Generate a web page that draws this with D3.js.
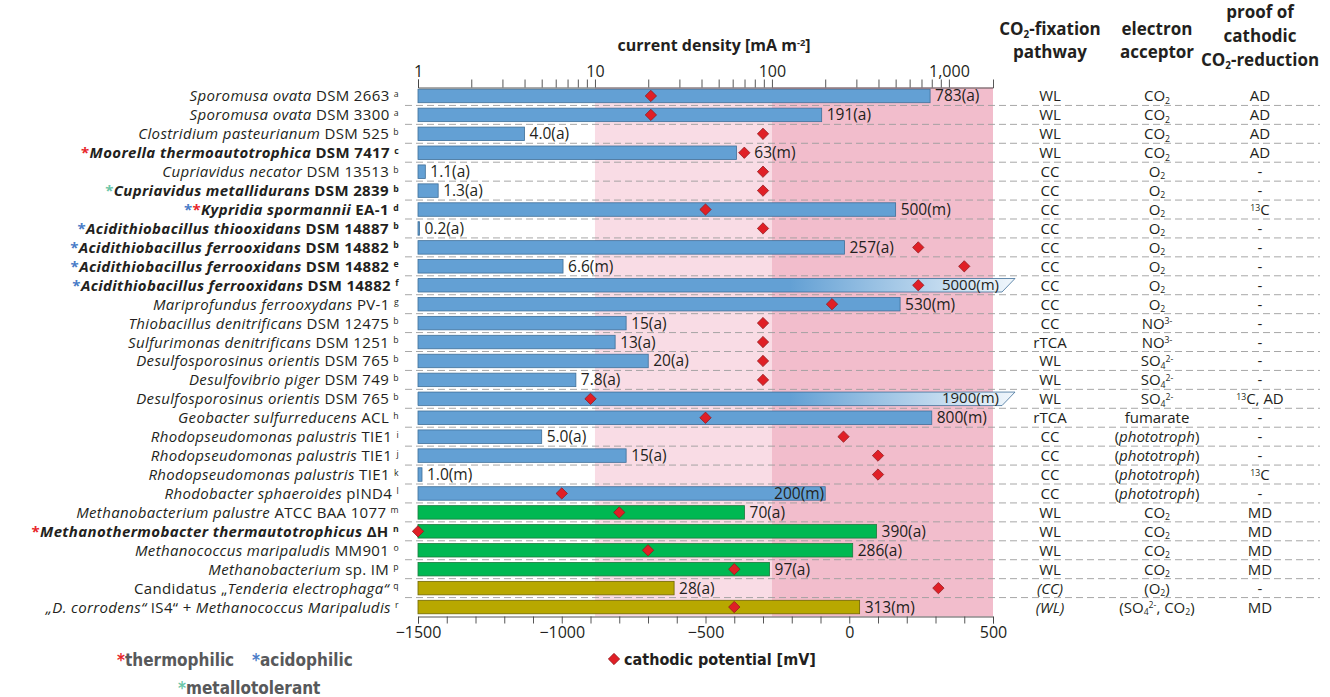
<!DOCTYPE html>
<html>
<head>
<meta charset="utf-8">
<script src="https://cdn.jsdelivr.net/npm/d3@7"></script>
<style>
  body { margin: 0; background: #fff; }
  svg { display: block; font-family: 'Open Sans', sans-serif; }
</style>
</head>
<body>
<svg id="chart" width="1330" height="697"></svg>
<script>
// organism names: |...| toggles italic, _{..} subscript, ^{..} superscript
const organisms = [
  "|Sporomusa ovata| DSM 2663",
  "|Sporomusa ovata| DSM 3300",
  "|Clostridium pasteurianum| DSM 525",
  "|Moorella thermoautotrophica| DSM 7417",
  "|Cupriavidus necator| DSM 13513",
  "|Cupriavidus metallidurans| DSM 2839",
  "|Kypridia spormannii| EA-1",
  "|Acidithiobacillus thiooxidans| DSM 14887",
  "|Acidithiobacillus ferrooxidans| DSM 14882",
  "|Acidithiobacillus ferrooxidans| DSM 14882",
  "|Acidithiobacillus ferrooxidans| DSM 14882",
  "|Mariprofundus ferrooxydans| PV-1",
  "|Thiobacillus denitrificans| DSM 12475",
  "|Sulfurimonas denitrificans| DSM 1251",
  "|Desulfosporosinus orientis| DSM 765",
  "|Desulfovibrio piger| DSM 749",
  "|Desulfosporosinus orientis| DSM 765",
  "|Geobacter sulfurreducens| ACL",
  "|Rhodopseudomonas palustris| TIE1",
  "|Rhodopseudomonas palustris| TIE1",
  "|Rhodopseudomonas palustris| TIE1",
  "|Rhodobacter sphaeroides| pIND4",
  "|Methanobacterium palustre| ATCC BAA 1077",
  "|Methanothermobacter thermautotrophicus| ΔH",
  "|Methanococcus maripaludis| MM901",
  "|Methanobacterium| sp. IM",
  "Candidatus „|Tenderia electrophaga“|",
  "|„D. corrodens“| IS4“ + |Methanococcus Maripaludis|"
];
const refs = "aabcbbdbbefgbbbbbhijklmnopqr".split("");
// r = thermophilic, b = acidophilic, t = metallotolerant
const markers = ["", "", "", "r", "", "t", "br", "b", "b", "b", "b", "", "", "", "", "",
  "", "", "", "", "", "", "", "r", "", "", "", ""];
const boldRows = [3, 5, 6, 7, 8, 9, 10, 23];
const groups = ["blue", "blue", "blue", "blue", "blue", "blue", "blue", "blue", "blue", "blue",
  "blue", "blue", "blue", "blue", "blue", "blue", "blue", "blue", "blue", "blue", "blue", "blue",
  "green", "green", "green", "green", "olive", "olive"];

// current density [mA m-2] and method (a / m)
const density = [783, 191, 4.0, 63, 1.1, 1.3, 500, 0.2, 257, 6.6, 5000, 530, 15, 13, 20, 7.8,
  1900, 800, 5.0, 15, 1.0, 200, 70, 390, 286, 97, 28, 313];
const method = ["a", "a", "a", "m", "a", "a", "m", "a", "a", "m", "m", "m", "a", "a", "a", "a",
  "m", "m", "a", "a", "m", "m", "a", "a", "a", "a", "a", "m"];
// cathodic potential [mV]
const potential = [-690, -690, -300, -365, -300, -300, -500, -300, 240, 400, 240, -60, -300, -300,
  -300, -300, -900, -500, -20, 100, 100, -1000, -800, -1500, -700, -400, 310, -400];

const pathway = ["WL", "WL", "WL", "WL", "CC", "CC", "CC", "CC", "CC", "CC", "CC", "CC", "CC",
  "rTCA", "WL", "WL", "WL", "rTCA", "CC", "CC", "CC", "CC", "WL", "WL", "WL", "WL", "|(CC)|", "|(WL)|"];
const acceptor = ["CO_{2}", "CO_{2}", "CO_{2}", "CO_{2}", "O_{2}", "O_{2}", "O_{2}", "O_{2}", "O_{2}",
  "O_{2}", "O_{2}", "O_{2}", "NO^{3-}", "NO^{3-}", "SO_{4}^{2-}", "SO_{4}^{2-}", "SO_{4}^{2-}",
  "fumarate", "(|phototroph|)", "(|phototroph|)", "(|phototroph|)", "(|phototroph|)",
  "CO_{2}", "CO_{2}", "CO_{2}", "CO_{2}", "(O_{2})", "(SO_{4}^{2-}, CO_{2})"];
const proof = ["AD", "AD", "AD", "AD", "-", "-", "^{13}C", "-", "-", "-", "-", "-", "-", "-", "-",
  "-", "^{13}C, AD", "-", "-", "-", "^{13}C", "-", "MD", "MD", "MD", "MD", "-", "MD"];

const densityTicks = [1, 10, 100, 1000];
const potentialTicks = [-1500, -1000, -500, 0, 500];

const colors = { blue: "#63a0d4", green: "#00b852", olive: "#b8a800" };
const strokes = { blue: "#3f6f98", green: "#1d7a3e", olive: "#6f6600" };
const markColor = { r: "#e8262b", b: "#4a7cc7", t: "#6cc6a8" };
const ink = "#231f20";

const svg = d3.select("#chart");
svg.append("rect").attr("width", 1330).attr("height", 697).attr("fill", "#fff");

const x = d3.scaleLog().domain([1, 1775]).range([418, 993]);
const xp = d3.scaleLinear().domain([-1500, 500]).range([418, 993]);
const y = d3.scaleBand().domain(d3.range(organisms.length)).range([86.5, 616.5]);
const bh = 13.5;
const cy = i => y(i) + y.bandwidth() / 2;

// rich text with italics, sub and superscripts
function rich(sel, str, size) {
  let italic = false, buf = "", i = 0;
  const parts = [];
  const push = (t, kind) => { if (t) parts.push({ t, kind, italic }); };
  while (i < str.length) {
    const c = str[i];
    if (c === "|") { push(buf, "n"); buf = ""; italic = !italic; i++; }
    else if ((c === "_" || c === "^") && str[i + 1] === "{") {
      push(buf, "n"); buf = "";
      const end = str.indexOf("}", i);
      push(str.slice(i + 2, end), c === "_" ? "sub" : "sup");
      i = end + 1;
    } else { buf += c; i++; }
  }
  push(buf, "n");
  let cur = 0;
  parts.forEach(p => {
    const target = p.kind === "sub" ? size * 0.15 : p.kind === "sup" ? -size * 0.3 : 0;
    sel.append("tspan")
      .attr("dy", target - cur)
      .attr("font-size", p.kind === "n" ? size : size * 0.58)
      .attr("font-style", p.italic ? "italic" : "normal")
      .text(p.t);
    cur = target;
  });
  return sel;
}

// shaded zones
svg.append("rect").attr("x", x(10)).attr("y", 87.5).attr("width", x(100) - x(10))
  .attr("height", 529).attr("fill", "#f9dce5");
svg.append("rect").attr("x", x(100)).attr("y", 87.5).attr("width", x.range()[1] - x(100))
  .attr("height", 529).attr("fill", "#f2bdcc");

// row separators
svg.append("g").selectAll("line")
  .data(d3.range(1, organisms.length))
  .join("line")
  .attr("x1", 405).attr("x2", 1320)
  .attr("y1", d => y(d)).attr("y2", d => y(d))
  .attr("stroke", "#9d9d9d").attr("stroke-width", 0.9)
  .attr("stroke-dasharray", "7,4");

// gradient for truncated bars
const grad = svg.append("defs").append("linearGradient").attr("id", "fade")
  .attr("gradientUnits", "userSpaceOnUse").attr("x1", 790).attr("x2", 1010).attr("y1", 0).attr("y2", 0);
grad.append("stop").attr("offset", 0).attr("stop-color", colors.blue);
grad.append("stop").attr("offset", 1).attr("stop-color", "#eef5fb");

const x0 = x(1);
const xmax = x.range()[1];
const truncated = i => density[i] > x.domain()[1];
const barEnd = i => x0 + Math.max(x(density[i]) - x0, density[i] < 1 ? 1.5 : 4);

// bars
const bars = svg.append("g");
organisms.forEach((_, i) => {
  const top = cy(i) - bh / 2;
  if (truncated(i)) {
    bars.append("path")
      .attr("d", `M${x0},${top}L${xmax + 22},${top}L${xmax + 9},${top + bh}L${x0},${top + bh}Z`)
      .attr("fill", "url(#fade)").attr("stroke", "#3f6f98").attr("stroke-width", 0.8);
  } else {
    bars.append("rect").attr("x", x0).attr("y", top).attr("width", barEnd(i) - x0).attr("height", bh)
      .attr("fill", colors[groups[i]]).attr("stroke", strokes[groups[i]]).attr("stroke-width", 0.8);
  }
});

// density labels (pushed past a diamond sitting on the bar end)
const fmt = v => v < 10 ? v.toFixed(1) : String(v);
const labelX = i => {
  if (truncated(i)) return xmax + 6;
  if (density[i] === 200) return barEnd(i) - 1;
  const e = barEnd(i), d = xp(potential[i]);
  return Math.abs(d - e) < 9 ? d + 10 : e + 5;
};
svg.append("g").selectAll("text")
  .data(organisms.map((_, i) => i))
  .join("text")
  .attr("x", labelX)
  .attr("text-anchor", i => truncated(i) || density[i] === 200 ? "end" : "start")
  .attr("y", i => cy(i) + (truncated(i) ? 4.5 : 5.5))
  .attr("font-size", i => truncated(i) ? 15 : 15.5).attr("fill", ink)
  .text(i => `${fmt(density[i])}(${method[i]})`);

// potential diamonds
const diamond = d3.symbol(d3.symbolSquare, 64);
svg.append("g").selectAll("path")
  .data(potential)
  .join("path")
  .attr("d", diamond)
  .attr("transform", (d, i) => `translate(${xp(d)},${cy(i)}) rotate(45)`)
  .attr("fill", "#e01f26").attr("stroke", "#8c1a1e").attr("stroke-width", 0.7);

// top axis (current density, log)
const minor = [];
[1, 10, 100].forEach(b => d3.range(1, 10).forEach(k => minor.push(b * k)));
minor.push(1000);
const topAxis = svg.append("g").attr("transform", "translate(0,87.5)")
  .call(d3.axisTop(x).tickValues(minor).tickSize(8).tickSizeOuter(8)
    .tickFormat(d => densityTicks.includes(d) ? d3.format(",")(d) : ""));
topAxis.selectAll("path, line").attr("stroke", "#444").attr("stroke-width", 0.9);
topAxis.selectAll("text").attr("font-size", 16).attr("fill", ink)
  .attr("font-family", "'Open Sans', sans-serif");

svg.append("text").attr("x", 714).attr("y", 51).attr("text-anchor", "middle")
  .attr("font-weight", 700).attr("fill", ink)
  .call(s => rich(s, "current density [mA m^{-2}]", 16));

// bottom axis (potential)
const botAxis = svg.append("g").attr("transform", "translate(0,616.5)")
  .call(d3.axisBottom(xp).tickValues(d3.range(-1500, 501, 100)).tickSize(7).tickSizeOuter(7)
    .tickFormat(d => potentialTicks.includes(d) ? d3.format("d")(d) : ""));
botAxis.selectAll("path, line").attr("stroke", "#444").attr("stroke-width", 0.9);
botAxis.selectAll("text").attr("font-size", 16).attr("fill", ink)
  .attr("font-family", "'Open Sans', sans-serif");

// organism labels
const labels = svg.append("g");
organisms.forEach((name, i) => {
  const t = labels.append("text").attr("x", 399).attr("y", cy(i) + 5.5)
    .attr("text-anchor", "end").attr("fill", ink).attr("letter-spacing", 0.35)
    .attr("font-weight", boldRows.includes(i) ? 700 : 400);
  markers[i].split("").forEach(m => {
    t.append("tspan").attr("fill", markColor[m]).attr("font-size", 15).text("*");
  });
  rich(t, name + " ^{" + refs[i] + "}", 15);
});

// table columns
const cols = [
  { x: 1050, vals: pathway, head: ["CO_{2}-fixation", "pathway"], hy: [35, 58] },
  { x: 1157, vals: acceptor, head: ["electron", "acceptor"], hy: [35, 58] },
  { x: 1260, vals: proof, head: ["proof of", "cathodic", "CO_{2}-reduction"], hy: [18, 42, 66] }
];
cols.forEach(c => {
  c.head.forEach((h, k) => {
    svg.append("text").attr("x", c.x).attr("y", c.hy[k]).attr("text-anchor", "middle")
      .attr("font-weight", 700).attr("fill", ink).call(s => rich(s, h, 17));
  });
  c.vals.forEach((v, i) => {
    svg.append("text").attr("x", c.x).attr("y", cy(i) + 5.5).attr("text-anchor", "middle")
      .attr("fill", ink).call(s => rich(s, v, 15));
  });
});

// legends
const condensed = "'DejaVu Sans Condensed', 'DejaVu Sans', sans-serif";
svg.append("path").attr("d", diamond).attr("transform", "translate(614,659) rotate(45)")
  .attr("fill", "#e01f26").attr("stroke", "#8c1a1e").attr("stroke-width", 0.7);
svg.append("text").attr("x", 624).attr("y", 665).attr("font-family", condensed)
  .attr("font-stretch", "condensed").attr("font-weight", 700).attr("font-size", 16)
  .attr("fill", ink).text("cathodic potential [mV]");

const legendItems = [
  { m: "r", label: "thermophilic", x: 117, y: 666 },
  { m: "b", label: "acidophilic", x: 252, y: 666 },
  { m: "t", label: "metallotolerant", x: 178, y: 694 }
];
legendItems.forEach(d => {
  const t = svg.append("text").attr("x", d.x).attr("y", d.y).attr("font-family", condensed)
    .attr("font-stretch", "condensed").attr("font-weight", 700).attr("font-size", 17);
  t.append("tspan").attr("fill", markColor[d.m]).text("*");
  t.append("tspan").attr("fill", "#58595b").text(d.label);
});
</script>
</body>
</html>
